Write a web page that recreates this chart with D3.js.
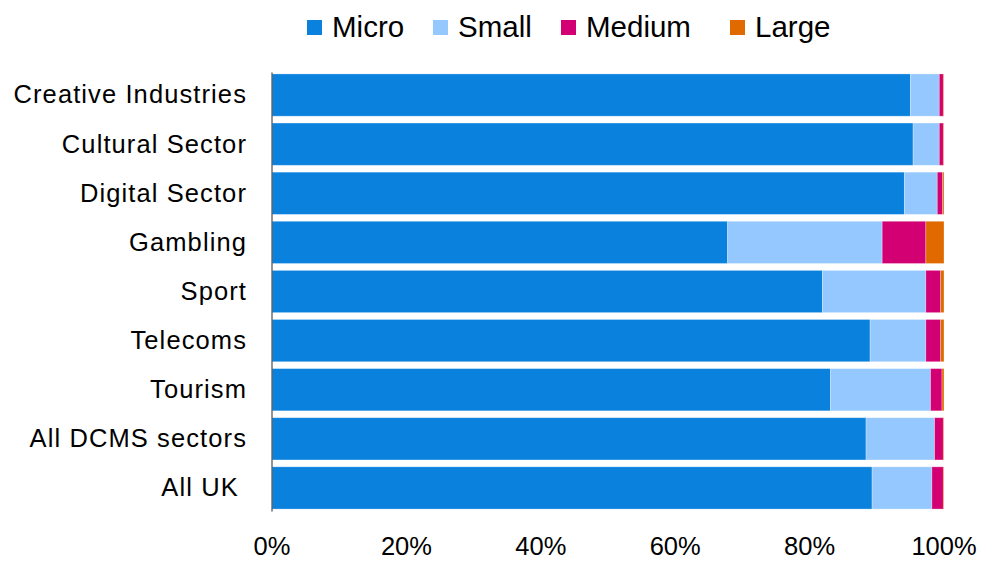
<!DOCTYPE html>
<html>
<head>
<meta charset="utf-8">
<script src="https://cdn.jsdelivr.net/npm/d3@7"></script>
<style>
  body { margin: 0; background: #fff; }
  svg { display: block; font-family: "Liberation Sans", Arial, sans-serif; }
  .ylab { white-space: pre; }
</style>
</head>
<body>
<div class="chart"></div>
<script>
// data (percent of businesses by size band)
const sectors = ["Creative Industries", "Cultural Sector", "Digital Sector", "Gambling", "Sport",
    "Telecoms", "Tourism", "All DCMS sectors", "All UK "];
const sizes = ["Micro", "Small", "Medium", "Large"];
const micro  = [95.0, 95.4, 94.1, 67.8, 81.9, 89.0, 83.1, 88.4, 89.3];
const small  = [4.3, 3.9, 4.9, 23.0, 15.4, 8.3, 14.9, 10.2, 8.9];
const medium = [0.6, 0.6, 0.8, 6.5, 2.2, 2.2, 1.7, 1.3, 1.7];
const large  = [0.1, 0.1, 0.2, 2.7, 0.5, 0.5, 0.3, 0.1, 0.1];
const xTicks = [0, 20, 40, 60, 80, 100];
const colors = ["#0a81dd", "#94c8fe", "#d20073", "#e06a00"];

const width = 981, height = 561;
const margin = { top: 70.5, right: 37, bottom: 48.5, left: 272 };

const rows = sectors.map((s, i) => ({ sector: s, Micro: micro[i], Small: small[i], Medium: medium[i], Large: large[i] }));
const series = d3.stack().keys(sizes)(rows);

const svg = d3.select(".chart").append("svg")
    .attr("width", width)
    .attr("height", height);

const x = d3.scaleLinear()
    .domain([0, 100])
    .range([margin.left, width - margin.right]);

const y = d3.scaleBand()
    .domain(sectors)
    .range([margin.top, height - margin.bottom])
    .paddingInner(0.14)
    .paddingOuter(0.07);

const color = d3.scaleOrdinal().domain(sizes).range(colors);

// bars
svg.append("g")
    .selectAll("g")
    .data(series)
    .join("g")
    .attr("fill", d => color(d.key))
    .selectAll("rect")
    .data(d => d)
    .join("rect")
    .attr("x", d => x(d[0]))
    .attr("y", d => y(d.data.sector))
    .attr("width", d => Math.max(0, x(d[1]) - x(d[0])))
    .attr("height", y.bandwidth())
    .attr("stroke", "#ffffff")
    .attr("stroke-opacity", 0.35)
    .attr("stroke-width", 0.8);

// category labels
svg.append("g")
    .selectAll("text")
    .data(sectors)
    .join("text")
    .attr("class", "ylab")
    .attr("x", margin.left - 25)
    .attr("y", d => y(d) + y.bandwidth() / 2)
    .attr("dy", "0.33em")
    .attr("text-anchor", "end")
    .style("font-size", "25.5px")
    .style("letter-spacing", "1.1px")
    .attr("fill", "#000")
    .text(d => d);

// vertical axis line
svg.append("line")
    .attr("x1", x(0)).attr("x2", x(0))
    .attr("y1", y.range()[0] + 2)
    .attr("y2", y.range()[1] - 1)
    .attr("stroke", "#595959")
    .attr("stroke-width", 1.3);

// x axis labels
svg.append("g")
    .attr("transform", `translate(0, ${height - 6})`)
    .selectAll("text")
    .data(xTicks)
    .join("text")
    .attr("x", d => x(d))
    .attr("text-anchor", "middle")
    .style("font-size", "25.5px")
    .attr("fill", "#000")
    .text(d => d + "%");

// legend
const legendX = [307, 433, 561, 730];
const legend = svg.append("g")
    .selectAll("g")
    .data(sizes)
    .join("g")
    .attr("transform", (d, i) => `translate(${legendX[i]}, 20)`);

legend.append("rect")
    .attr("width", 15)
    .attr("height", 15)
    .attr("fill", d => color(d));

legend.append("text")
    .attr("x", 25)
    .attr("y", 16.5)
    .style("font-size", "29.5px")
    .attr("fill", "#000")
    .text(d => d);
</script>
</body>
</html>
